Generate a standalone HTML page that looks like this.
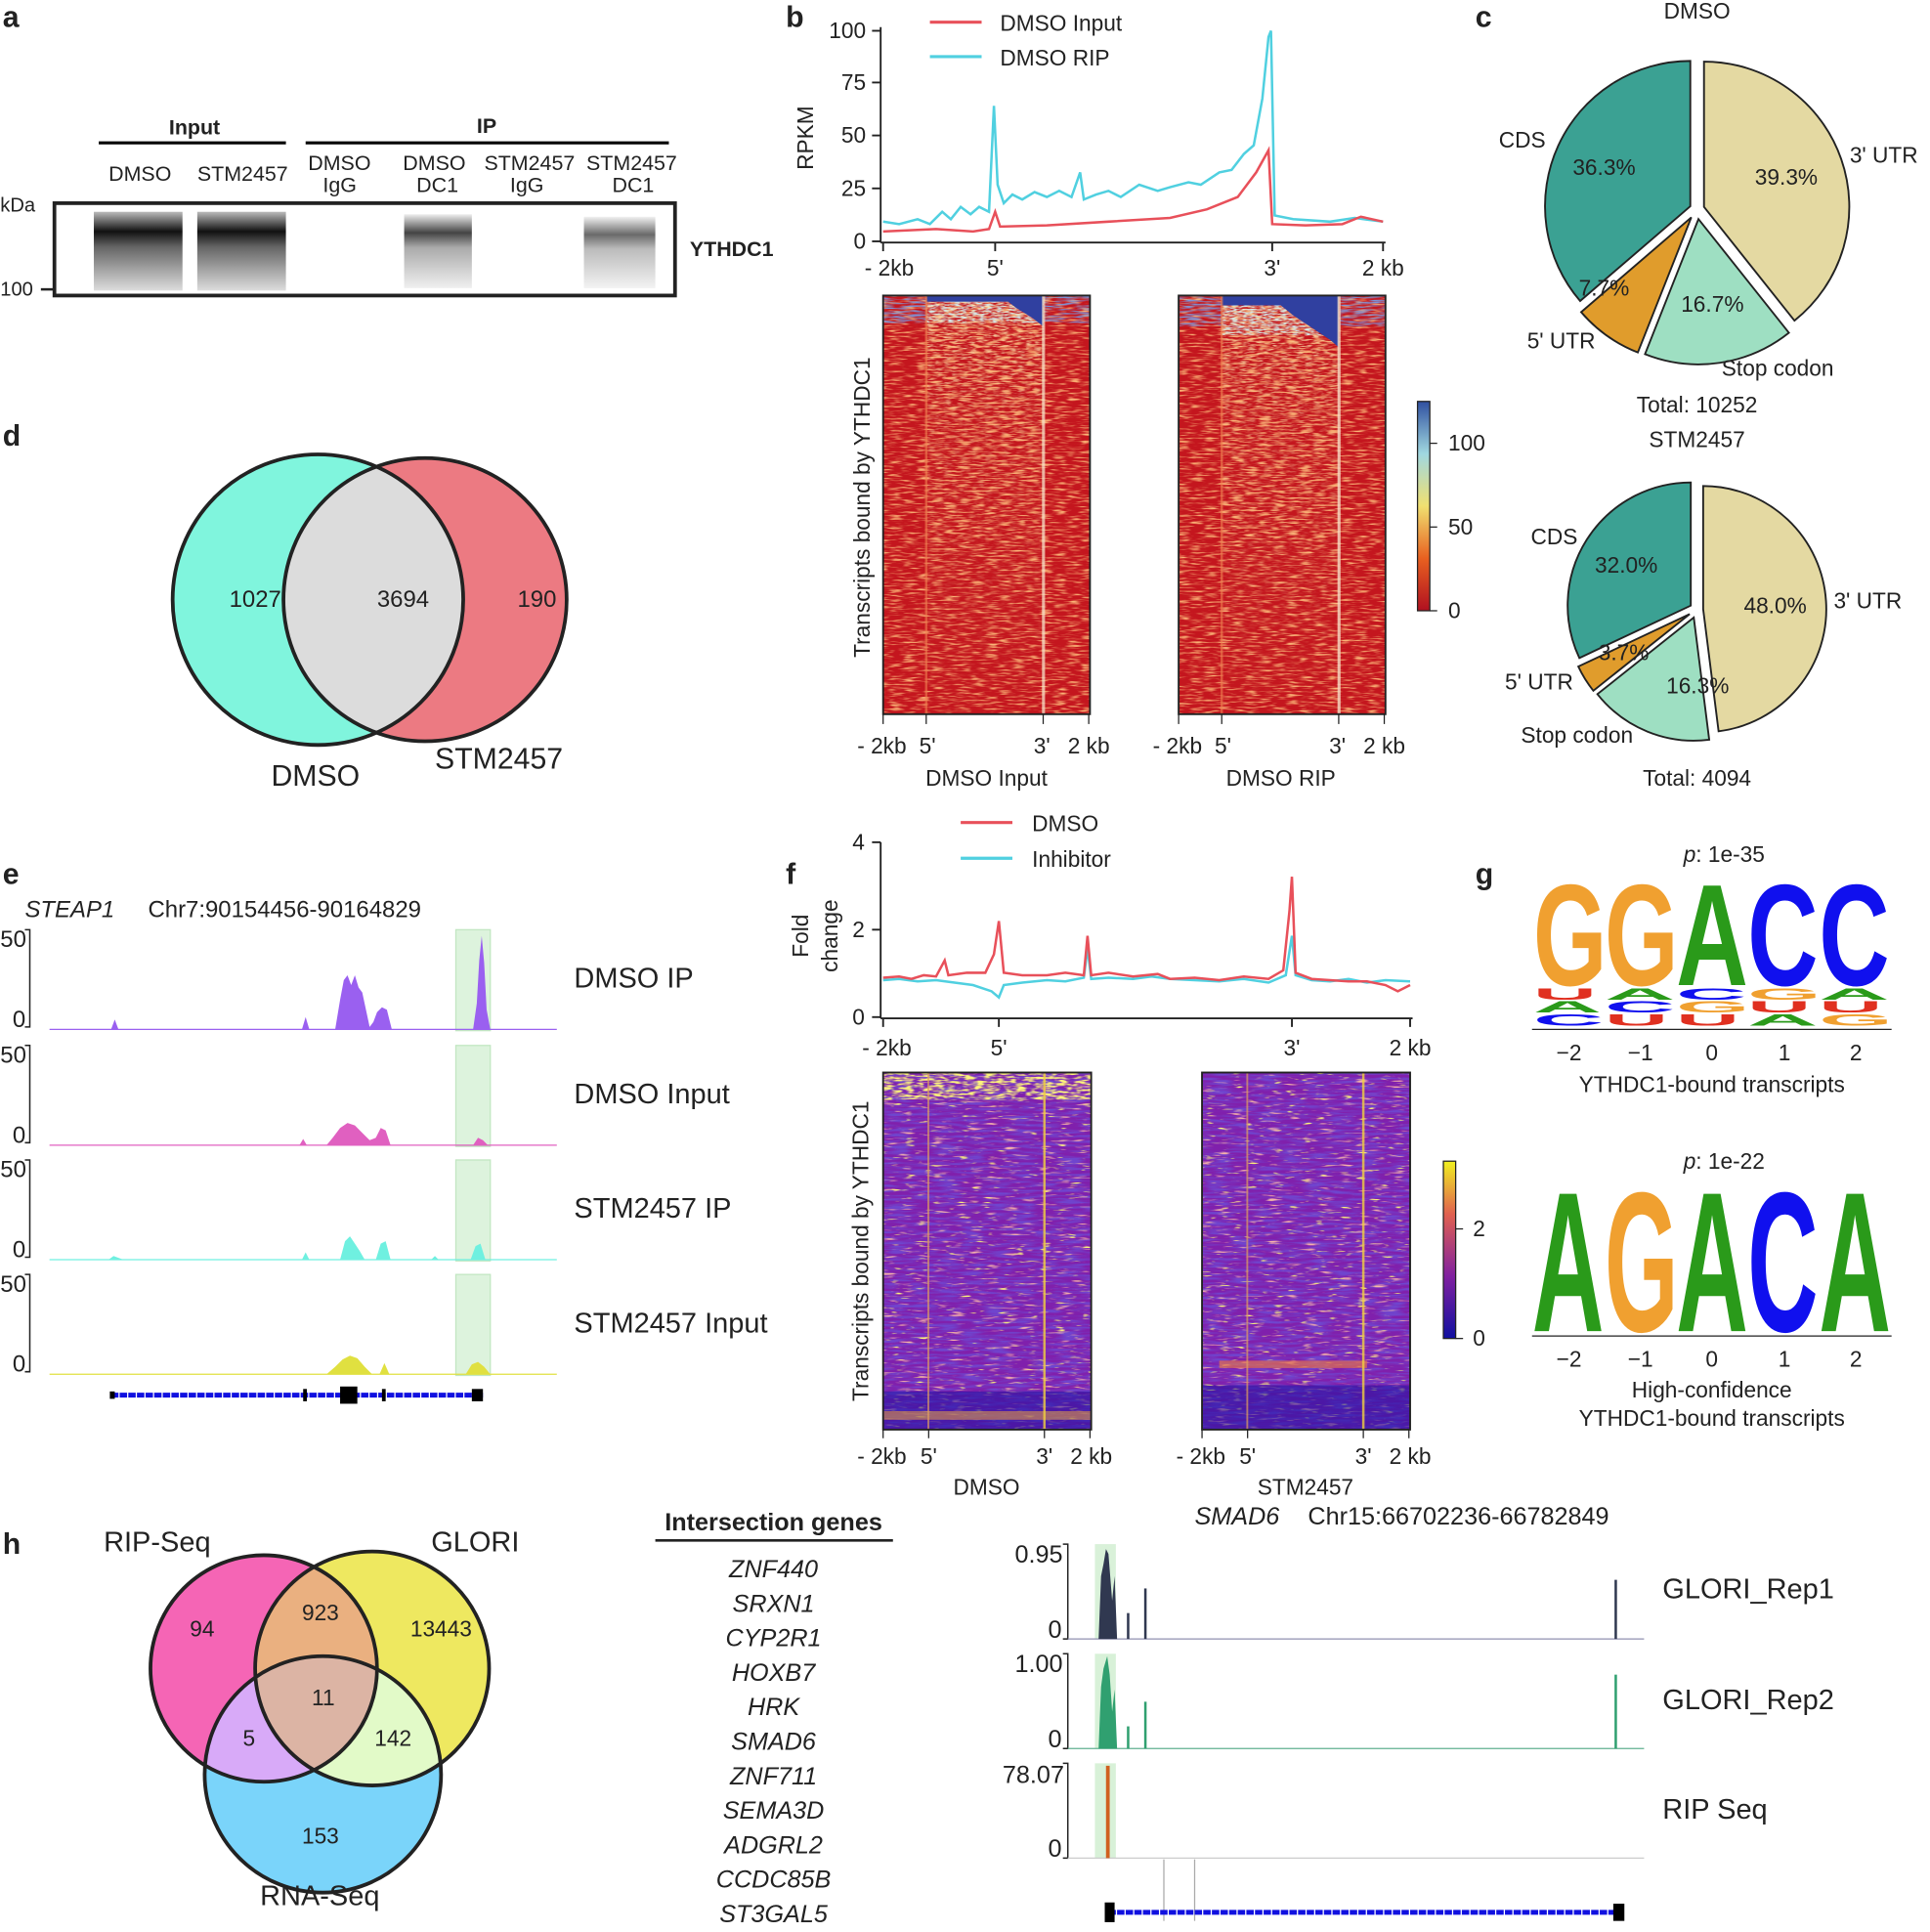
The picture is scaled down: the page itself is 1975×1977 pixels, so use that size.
<!DOCTYPE html>
<html><head><meta charset="utf-8"><style>
html,body{margin:0;padding:0;background:#fff}
svg{display:block}
text{font-family:"Liberation Sans",sans-serif;fill:#222}
</style></head><body>
<svg width="1975" height="1977" viewBox="0 0 1567 1569" xmlns="http://www.w3.org/2000/svg">
<defs>
<linearGradient id="cb1" x1="0" y1="0" x2="0" y2="1"><stop offset="0" stop-color="#3050a0"/><stop offset="0.25" stop-color="#a0d8e0"/><stop offset="0.5" stop-color="#f0e070"/><stop offset="0.75" stop-color="#e86020"/><stop offset="1" stop-color="#b01020"/></linearGradient>
<linearGradient id="cb2" x1="0" y1="0" x2="0" y2="1"><stop offset="0" stop-color="#f0f020"/><stop offset="0.3" stop-color="#e06050"/><stop offset="0.65" stop-color="#8020a0"/><stop offset="1" stop-color="#1010a0"/></linearGradient>
<linearGradient id="blot" x1="0" y1="0" x2="0" y2="1"><stop offset="0" stop-color="#bbb"/><stop offset="0.25" stop-color="#111"/><stop offset="0.45" stop-color="#666"/><stop offset="1" stop-color="#ddd"/></linearGradient>
<linearGradient id="blot2" x1="0" y1="0" x2="0" y2="1"><stop offset="0" stop-color="#eee"/><stop offset="0.25" stop-color="#444"/><stop offset="0.45" stop-color="#aaa"/><stop offset="1" stop-color="#f0f0f0"/></linearGradient>
<linearGradient id="fadeTop" x1="0" y1="0" x2="0" y2="1"><stop offset="0" stop-color="#fff" stop-opacity="1"/><stop offset="0.3" stop-color="#fff" stop-opacity="0.35"/><stop offset="1" stop-color="#fff" stop-opacity="0"/></linearGradient>
<mask id="mTop" maskUnits="userSpaceOnUse" x="0" y="0" width="1567" height="1569"><rect x="700" y="240" width="450" height="340" fill="url(#fadeTop)"/></mask>
<filter id="nR" x="0" y="0" width="1" height="1">
<feTurbulence type="fractalNoise" baseFrequency="0.09 0.7" numOctaves="2" seed="3"/>
<feColorMatrix type="matrix" values="0 0 0 0 0.96  0 0 0 0 0.45  0 0 0 0 0.18  3.2 0 0 0 -1.55"/></filter>
<filter id="nY" x="0" y="0" width="1" height="1">
<feTurbulence type="fractalNoise" baseFrequency="0.15 0.8" numOctaves="2" seed="9"/>
<feColorMatrix type="matrix" values="0 0 0 0 0.98  0 0 0 0 0.85  0 0 0 0 0.45  4 0 0 0 -1.9"/></filter>
<filter id="nB" x="0" y="0" width="1" height="1">
<feTurbulence type="fractalNoise" baseFrequency="0.08 0.7" numOctaves="2" seed="5"/>
<feColorMatrix type="matrix" values="0 0 0 0 0.2  0 0 0 0 0.3  0 0 0 0 0.7  3 0 0 0 -1.2"/></filter>
<filter id="nC" x="0" y="0" width="1" height="1">
<feTurbulence type="fractalNoise" baseFrequency="0.2 0.8" numOctaves="2" seed="15"/>
<feColorMatrix type="matrix" values="0 0 0 0 0.65  0 0 0 0 0.85  0 0 0 0 0.85  3 0 0 0 -1.2"/></filter>
<filter id="nP" x="0" y="0" width="1" height="1">
<feTurbulence type="fractalNoise" baseFrequency="0.05 0.45" numOctaves="2" seed="11"/>
<feColorMatrix type="matrix" values="0 0 0 0 0.16  0 0 0 0 0.06  0 0 0 0 0.62  3 0 0 0 -1.2"/></filter>
<filter id="nO" x="0" y="0" width="1" height="1">
<feTurbulence type="fractalNoise" baseFrequency="0.07 0.5" numOctaves="2" seed="21"/>
<feColorMatrix type="matrix" values="0 0 0 0 0.93  0 0 0 0 0.45  0 0 0 0 0.4  5 0 0 0 -3.1"/></filter>
<filter id="nYY" x="0" y="0" width="1" height="1">
<feTurbulence type="fractalNoise" baseFrequency="0.09 0.5" numOctaves="2" seed="31"/>
<feColorMatrix type="matrix" values="0 0 0 0 0.98  0 0 0 0 0.9  0 0 0 0 0.2  6 0 0 0 -4.0"/></filter>
<filter id="nYT" x="0" y="0" width="1" height="1">
<feTurbulence type="fractalNoise" baseFrequency="0.12 0.6" numOctaves="2" seed="41"/>
<feColorMatrix type="matrix" values="0 0 0 0 0.98  0 0 0 0 0.9  0 0 0 0 0.2  4 0 0 0 -1.7"/></filter>
<clipPath id="cA"><circle cx="258" cy="487" r="118"/></clipPath>
<clipPath id="cP"><circle cx="214" cy="1355" r="92"/></clipPath>
<clipPath id="cY"><circle cx="302" cy="1355" r="95"/></clipPath>
</defs>
<g font-weight="bold" font-size="24">
<text x="2" y="22">a</text><text x="638" y="22">b</text><text x="1198" y="22">c</text>
<text x="2" y="362">d</text><text x="2" y="718">e</text><text x="638" y="718">f</text>
<text x="1198" y="718">g</text><text x="2" y="1262">h</text></g>

<!-- a -->
<g font-size="17">
<text x="137" y="109" font-weight="bold">Input</text><line x1="80" y1="116" x2="232" y2="116" stroke="#000" stroke-width="2.5"/>
<text x="387" y="108" font-weight="bold">IP</text><line x1="248" y1="116" x2="543" y2="116" stroke="#000" stroke-width="2.5"/>
<text x="88" y="147">DMSO</text><text x="160" y="147">STM2457</text>
<text x="250" y="138">DMSO</text><text x="262" y="156">IgG</text>
<text x="327" y="138">DMSO</text><text x="338" y="156">DC1</text>
<text x="393" y="138">STM2457</text><text x="414" y="156">IgG</text>
<text x="476" y="138">STM2457</text><text x="497" y="156">DC1</text>
<text x="0" y="172" font-size="16">kDa</text><text x="0" y="240" font-size="16">100</text>
<text x="560" y="208" font-weight="bold">YTHDC1</text></g>
<rect x="44" y="165" width="504" height="75" fill="#fff" stroke="#222" stroke-width="3"/>
<line x1="33" y1="235" x2="44" y2="235" stroke="#222" stroke-width="2"/>
<rect x="76" y="172" width="72" height="64" fill="url(#blot)"/>
<rect x="160" y="172" width="72" height="64" fill="url(#blot)"/>
<rect x="328" y="174" width="55" height="60" fill="url(#blot2)"/>
<rect x="474" y="176" width="58" height="58" fill="url(#blot2)" opacity="0.8"/>

<!-- b line chart -->
<g font-size="18">
<line x1="715" y1="22" x2="715" y2="197" stroke="#222" stroke-width="1.5"/>
<line x1="715" y1="197" x2="1125" y2="197" stroke="#222" stroke-width="1.5"/>
<g stroke="#222" stroke-width="1.5"><line x1="708" y1="196" x2="715" y2="196"/><line x1="708" y1="153" x2="715" y2="153"/><line x1="708" y1="110" x2="715" y2="110"/><line x1="708" y1="67" x2="715" y2="67"/><line x1="708" y1="25" x2="715" y2="25"/>
<line x1="717" y1="197" x2="717" y2="204"/><line x1="808" y1="197" x2="808" y2="204"/><line x1="1033" y1="197" x2="1033" y2="204"/><line x1="1123" y1="197" x2="1123" y2="204"/></g>
<text x="703" y="202" text-anchor="end">0</text><text x="703" y="159" text-anchor="end">25</text><text x="703" y="116" text-anchor="end">50</text><text x="703" y="73" text-anchor="end">75</text><text x="703" y="31" text-anchor="end">100</text>
<text x="660" y="112" transform="rotate(-90 660 112)" text-anchor="middle">RPKM</text>
<text x="722" y="224" text-anchor="middle">- 2kb</text><text x="808" y="224" text-anchor="middle">5'</text><text x="1033" y="224" text-anchor="middle">3'</text><text x="1123" y="224" text-anchor="middle">2 kb</text>
<line x1="755" y1="18" x2="797" y2="18" stroke="#e8505a" stroke-width="2.5"/><text x="812" y="25">DMSO Input</text>
<line x1="755" y1="46" x2="797" y2="46" stroke="#50d0e0" stroke-width="2.5"/><text x="812" y="53">DMSO RIP</text>
</g>
<polyline fill="none" stroke="#50d0e0" stroke-width="2" points="717,180 730,182 745,178 755,182 765,172 772,178 780,168 788,174 795,168 803,172 807,86 810,150 815,165 822,158 830,162 840,156 850,160 860,155 870,160 877,140 880,162 890,158 900,155 910,160 925,150 940,155 950,152 965,148 975,150 990,140 1000,138 1010,125 1018,118 1025,80 1030,30 1032,25 1035,175 1050,178 1080,180 1100,177 1123,180"/>
<polyline fill="none" stroke="#e8505a" stroke-width="2" points="717,188 760,186 790,188 803,186 808,172 812,184 850,183 900,180 950,177 980,170 1005,160 1020,140 1030,122 1033,182 1060,183 1090,182 1105,176 1123,180"/>

<!-- b heatmaps -->
<g>
<rect x="717" y="240" width="168" height="340" fill="#c4161e"/>
<rect x="717" y="240" width="168" height="340" filter="url(#nR)"/>
<g mask="url(#mTop)"><rect x="752" y="240" width="95" height="340" filter="url(#nY)"/></g>
<rect x="752" y="240" width="95" height="200" filter="url(#nR)" opacity="0.6"/>
<rect x="752" y="244" width="95" height="18" filter="url(#nC)"/>
<rect x="752" y="240" width="95" height="5" fill="#3040a0"/>
<polygon points="812,240 847,240 847,265 838,258 825,250" fill="#3040a0"/>
<rect x="717" y="240" width="35" height="22" filter="url(#nB)"/>
<rect x="848" y="240" width="37" height="22" filter="url(#nB)"/>
<rect x="751" y="240" width="2" height="340" fill="#f08050" opacity="0.6"/>
<rect x="846" y="240" width="2.5" height="340" fill="#f6e0c8" opacity="0.75"/>

<rect x="957" y="240" width="168" height="340" fill="#c4161e"/>
<rect x="957" y="240" width="168" height="340" filter="url(#nR)"/>
<g mask="url(#mTop)"><rect x="992" y="240" width="95" height="340" filter="url(#nY)"/></g>
<rect x="992" y="240" width="95" height="200" filter="url(#nR)" opacity="0.6"/>
<rect x="992" y="248" width="95" height="24" filter="url(#nC)"/>
<rect x="992" y="240" width="95" height="8" fill="#3040a0"/>
<polygon points="1030,240 1087,240 1087,282 1080,276 1068,268 1050,256" fill="#3040a0"/>
<rect x="957" y="240" width="35" height="25" filter="url(#nB)"/>
<rect x="1088" y="240" width="37" height="25" filter="url(#nB)"/>
<rect x="991" y="240" width="2" height="340" fill="#f08050" opacity="0.6"/>
<rect x="1086" y="240" width="2.5" height="340" fill="#f6e0c8" opacity="0.8"/>
</g>
<rect x="717" y="240" width="168" height="340" fill="none" stroke="#222" stroke-width="1.5"/>
<rect x="957" y="240" width="168" height="340" fill="none" stroke="#222" stroke-width="1.5"/>
<g font-size="18" stroke="#222">
<line x1="717" y1="580" x2="717" y2="588"/><line x1="752" y1="580" x2="752" y2="588"/><line x1="847" y1="580" x2="847" y2="588"/><line x1="884" y1="580" x2="884" y2="588"/>
<line x1="957" y1="580" x2="957" y2="588"/><line x1="992" y1="580" x2="992" y2="588"/><line x1="1087" y1="580" x2="1087" y2="588"/><line x1="1124" y1="580" x2="1124" y2="588"/></g>
<g font-size="18">
<text x="716" y="612" text-anchor="middle">- 2kb</text><text x="753" y="612" text-anchor="middle">5'</text><text x="846" y="612" text-anchor="middle">3'</text><text x="884" y="612" text-anchor="middle">2 kb</text>
<text x="956" y="612" text-anchor="middle">- 2kb</text><text x="993" y="612" text-anchor="middle">5'</text><text x="1086" y="612" text-anchor="middle">3'</text><text x="1124" y="612" text-anchor="middle">2 kb</text>
<text x="801" y="638" text-anchor="middle">DMSO Input</text><text x="1040" y="638" text-anchor="middle">DMSO RIP</text>
<text x="706" y="412" transform="rotate(-90 706 412)" text-anchor="middle">Transcripts bound by YTHDC1</text>
<rect x="1151" y="326" width="10" height="170" fill="url(#cb1)" stroke="#222"/>
<line x1="1161" y1="360" x2="1167" y2="360" stroke="#222"/><line x1="1161" y1="428" x2="1167" y2="428" stroke="#222"/><line x1="1161" y1="496" x2="1167" y2="496" stroke="#222"/>
<text x="1176" y="366">100</text><text x="1176" y="434">50</text><text x="1176" y="502">0</text>
</g>

<!-- c pies -->
<g stroke="#222" stroke-width="1.5">
<path d="M1383.66,168.02 L1383.66,50.02 A118,118 0 0 1 1457.12,260.37 Z" fill="#e4d9a2"/>
<path d="M1379.18,177.91 L1452.64,270.26 A118,118 0 0 1 1335.74,287.63 Z" fill="#9edfc2"/>
<path d="M1373.36,176.52 L1329.92,286.24 A118,118 0 0 1 1283.89,253.46 Z" fill="#e09c2c"/>
<path d="M1372.55,167.5 L1283.08,244.44 A118,118 0 0 1 1372.55,49.5 Z" fill="#3ba193"/>
<path d="M1382.99,494.69 L1382.99,394.69 A100,100 0 0 1 1395.52,593.9 Z" fill="#e4d9a2"/>
<path d="M1375.36,501.48 L1387.89,600.69 A100,100 0 0 1 1297.1,563.73 Z" fill="#9edfc2"/>
<path d="M1372.05,498.69 L1293.79,560.94 A100,100 0 0 1 1281.57,541.27 Z" fill="#e09c2c"/>
<path d="M1372.93,491.79 L1282.45,534.37 A100,100 0 0 1 1372.93,391.79 Z" fill="#3ba193"/>
</g>
<g font-size="18">
<text x="1378" y="15" text-anchor="middle">DMSO</text>
<text x="1217" y="120">CDS</text><text x="1277" y="142">36.3%</text><text x="1425" y="150">39.3%</text><text x="1502" y="132">3' UTR</text>
<text x="1282" y="240">7.7%</text><text x="1365" y="253">16.7%</text><text x="1240" y="283">5' UTR</text><text x="1398" y="305">Stop codon</text>
<text x="1378" y="335" text-anchor="middle">Total: 10252</text><text x="1378" y="363" text-anchor="middle">STM2457</text>
<text x="1243" y="442">CDS</text><text x="1295" y="465">32.0%</text><text x="1416" y="498">48.0%</text><text x="1489" y="494">3' UTR</text>
<text x="1298" y="536">3.7%</text><text x="1353" y="563">16.3%</text><text x="1222" y="560">5' UTR</text><text x="1235" y="603">Stop codon</text>
<text x="1378" y="638" text-anchor="middle">Total: 4094</text>
</g>

<!-- d venn -->
<circle cx="258" cy="487" r="118" fill="#80f5dd"/>
<circle cx="345" cy="487" r="115" fill="#ec7a82"/>
<circle cx="345" cy="487" r="115" fill="#dcdcdc" clip-path="url(#cA)"/>
<circle cx="258" cy="487" r="118" fill="none" stroke="#222" stroke-width="3"/>
<circle cx="345" cy="487" r="115" fill="none" stroke="#222" stroke-width="3"/>
<g font-size="19"><text x="186" y="493">1027</text><text x="306" y="493">3694</text><text x="420" y="493">190</text></g>
<g font-size="24"><text x="220" y="638">DMSO</text><text x="353" y="624">STM2457</text></g>

<!-- e tracks -->
<g fill="#cfeecf" opacity="0.7" stroke="#a8dca8">
<rect x="370" y="755" width="28" height="82"/><rect x="370" y="849" width="28" height="82"/><rect x="370" y="942" width="28" height="82"/><rect x="370" y="1035" width="28" height="82"/></g>
<path fill="#9a60f0" d="M40,836 L90,836 93,828 96,836 245,836 248,826 251,836 272,836 276,812 279,796 282,792 285,800 288,792 291,802 294,806 297,820 300,834 303,830 306,822 310,818 314,820 318,836 384,836 387,815 389,780 391,760 393,782 395,820 398,836 452,836 Z"/>
<path fill="#e060c0" d="M40,930 L243,930 246,925 249,930 265,930 270,924 276,916 282,912 288,914 294,920 300,926 305,924 309,916 313,918 317,930 384,930 388,924 392,926 396,930 452,930 Z"/>
<path fill="#6ff0e0" d="M40,1023 L88,1023 92,1020 100,1023 245,1023 248,1017 251,1023 276,1023 280,1008 284,1004 288,1010 292,1016 296,1023 305,1023 309,1010 313,1008 317,1023 350,1023 353,1020 356,1023 382,1023 386,1012 390,1010 394,1023 452,1023 Z"/>
<path fill="#e0e040" d="M40,1116 L265,1116 272,1110 278,1104 284,1101 290,1103 296,1110 302,1116 308,1116 312,1107 316,1116 378,1116 383,1108 388,1106 393,1110 398,1116 452,1116 Z"/>
<g stroke-width="1"><line x1="40" y1="836" x2="452" y2="836" stroke="#9a60f0"/><line x1="40" y1="930" x2="452" y2="930" stroke="#e060c0"/><line x1="40" y1="1023" x2="452" y2="1023" stroke="#6ff0e0"/><line x1="40" y1="1116" x2="452" y2="1116" stroke="#e0e040"/></g>
<g font-size="19">
<text x="20" y="745" font-style="italic">STEAP1</text><text x="120" y="745">Chr7:90154456-90164829</text>
<text x="0" y="769">50</text><text x="10" y="834">0</text>
<text x="0" y="863">50</text><text x="10" y="928">0</text>
<text x="0" y="956">50</text><text x="10" y="1021">0</text>
<text x="0" y="1049">50</text><text x="10" y="1114">0</text>
<g font-size="23"><text x="466" y="802">DMSO IP</text><text x="466" y="896">DMSO Input</text><text x="466" y="989">STM2457 IP</text><text x="466" y="1082">STM2457 Input</text></g>
</g>
<g stroke="#222" stroke-width="1.2" fill="none">
<polyline points="20,755 24,755 24,834 20,834"/><polyline points="20,849 24,849 24,928 20,928"/><polyline points="20,942 24,942 24,1021 20,1021"/><polyline points="20,1035 24,1035 24,1114 20,1114"/></g>
<line x1="90" y1="1133" x2="392" y2="1133" stroke="#1010e0" stroke-width="4" stroke-dasharray="6 1"/>
<rect x="276" y="1126" width="14" height="14" fill="#000"/><rect x="246" y="1128" width="3" height="10" fill="#000"/><rect x="310" y="1128" width="3" height="10" fill="#000"/><rect x="383" y="1128" width="9" height="10" fill="#000"/><rect x="89" y="1130" width="4" height="6" fill="#000"/>

<!-- f line chart -->
<g font-size="18">
<line x1="715" y1="684" x2="715" y2="827" stroke="#222" stroke-width="1.5"/>
<line x1="715" y1="827" x2="1147" y2="827" stroke="#222" stroke-width="1.5"/>
<g stroke="#222" stroke-width="1.5"><line x1="708" y1="826" x2="715" y2="826"/><line x1="708" y1="755" x2="715" y2="755"/><line x1="708" y1="684" x2="715" y2="684"/>
<line x1="717" y1="827" x2="717" y2="834"/><line x1="811" y1="827" x2="811" y2="834"/><line x1="1049" y1="827" x2="1049" y2="834"/><line x1="1145" y1="827" x2="1145" y2="834"/></g>
<text x="702" y="832" text-anchor="end">0</text><text x="702" y="761" text-anchor="end">2</text><text x="702" y="690" text-anchor="end">4</text>
<text x="656" y="760" transform="rotate(-90 656 760)" text-anchor="middle">Fold</text><text x="680" y="760" transform="rotate(-90 680 760)" text-anchor="middle">change</text>
<text x="720" y="857" text-anchor="middle">- 2kb</text><text x="811" y="857" text-anchor="middle">5'</text><text x="1049" y="857" text-anchor="middle">3'</text><text x="1145" y="857" text-anchor="middle">2 kb</text>
<line x1="780" y1="668" x2="822" y2="668" stroke="#e8505a" stroke-width="2.5"/><text x="838" y="675">DMSO</text>
<line x1="780" y1="697" x2="822" y2="697" stroke="#50d0e0" stroke-width="2.5"/><text x="838" y="704">Inhibitor</text>
</g>
<polyline fill="none" stroke="#50d0e0" stroke-width="2" points="717,796 730,795 745,797 760,796 775,798 790,800 805,805 811,810 815,800 830,798 850,796 865,797 880,794 883,770 886,795 900,794 920,795 935,793 950,795 970,796 990,797 1010,795 1030,798 1044,792 1049,760 1052,792 1065,796 1080,797 1095,795 1110,798 1125,796 1145,797"/>
<polyline fill="none" stroke="#e8505a" stroke-width="2" points="717,794 730,793 740,795 750,792 760,793 767,780 770,792 785,790 800,790 807,775 811,748 815,790 830,792 850,792 865,790 880,792 883,760 886,792 900,790 920,793 940,791 950,795 970,794 990,796 1010,793 1030,795 1042,788 1047,740 1049,712 1052,790 1065,795 1080,796 1095,797 1110,797 1125,800 1135,805 1145,800"/>

<g>
<rect x="717" y="871" width="169" height="290" fill="#8020ac"/>
<rect x="717" y="871" width="169" height="290" filter="url(#nP)"/>
<rect x="717" y="871" width="169" height="290" filter="url(#nO)"/>
<rect x="717" y="871" width="169" height="290" filter="url(#nYY)"/>
<rect x="717" y="871" width="169" height="22" filter="url(#nYT)"/>
<rect x="717" y="1130" width="169" height="31" fill="#2010a0" opacity="0.55"/>
<rect x="717" y="1146" width="169" height="7" fill="#e8a040" opacity="0.55"/>
<rect x="753" y="871" width="1.5" height="290" fill="#e0a060" opacity="0.7"/>
<rect x="847" y="871" width="2" height="290" fill="#f0d040" opacity="0.8"/>
<rect x="976" y="871" width="169" height="290" fill="#8020ac"/>
<rect x="976" y="871" width="169" height="290" filter="url(#nP)"/>
<rect x="976" y="871" width="169" height="290" filter="url(#nO)"/>
<rect x="976" y="871" width="169" height="290" filter="url(#nYY)"/>
<rect x="976" y="1125" width="169" height="36" fill="#2010a0" opacity="0.55"/>
<rect x="990" y="1105" width="120" height="6" fill="#e07050" opacity="0.7"/>
<rect x="1012" y="871" width="1.5" height="290" fill="#e0a060" opacity="0.7"/>
<rect x="1106" y="871" width="2" height="290" fill="#f0d040" opacity="0.8"/>
</g>
<rect x="717" y="871" width="169" height="290" fill="none" stroke="#222" stroke-width="1.5"/>
<rect x="976" y="871" width="169" height="290" fill="none" stroke="#222" stroke-width="1.5"/>
<g font-size="18">
<g stroke="#222"><line x1="717" y1="1161" x2="717" y2="1168"/><line x1="754" y1="1161" x2="754" y2="1168"/><line x1="848" y1="1161" x2="848" y2="1168"/><line x1="885" y1="1161" x2="885" y2="1168"/>
<line x1="976" y1="1161" x2="976" y2="1168"/><line x1="1013" y1="1161" x2="1013" y2="1168"/><line x1="1107" y1="1161" x2="1107" y2="1168"/><line x1="1144" y1="1161" x2="1144" y2="1168"/></g>
<text x="716" y="1189" text-anchor="middle">- 2kb</text><text x="754" y="1189" text-anchor="middle">5'</text><text x="848" y="1189" text-anchor="middle">3'</text><text x="886" y="1189" text-anchor="middle">2 kb</text>
<text x="975" y="1189" text-anchor="middle">- 2kb</text><text x="1013" y="1189" text-anchor="middle">5'</text><text x="1107" y="1189" text-anchor="middle">3'</text><text x="1145" y="1189" text-anchor="middle">2 kb</text>
<text x="801" y="1214" text-anchor="middle">DMSO</text><text x="1060" y="1214" text-anchor="middle">STM2457</text>
<text x="705" y="1016" transform="rotate(-90 705 1016)" text-anchor="middle">Transcripts bound by YTHDC1</text>
<rect x="1172" y="943" width="10" height="144" fill="url(#cb2)" stroke="#222"/>
<line x1="1182" y1="998" x2="1188" y2="998" stroke="#222"/><line x1="1182" y1="1087" x2="1188" y2="1087" stroke="#222"/>
<text x="1196" y="1004">2</text><text x="1196" y="1093">0</text>
</g>

<!-- g logos -->
<g font-size="18">
<text x="1400" y="700" text-anchor="middle"><tspan font-style="italic">p</tspan>: 1e-35</text>
<text x="1400" y="949" text-anchor="middle"><tspan font-style="italic">p</tspan>: 1e-22</text>
<text x="1390" y="887" text-anchor="middle">YTHDC1-bound transcripts</text>
<text x="1390" y="1135" text-anchor="middle">High-confidence</text><text x="1390" y="1158" text-anchor="middle">YTHDC1-bound transcripts</text>
<line x1="1244" y1="836" x2="1536" y2="836" stroke="#222"/><line x1="1244" y1="1085" x2="1536" y2="1085" stroke="#222"/>
<text x="1274" y="861" text-anchor="middle">−2</text><text x="1332" y="861" text-anchor="middle">−1</text><text x="1390" y="861" text-anchor="middle">0</text><text x="1449" y="861" text-anchor="middle">1</text><text x="1507" y="861" text-anchor="middle">2</text>
<text x="1274" y="1110" text-anchor="middle">−2</text><text x="1332" y="1110" text-anchor="middle">−1</text><text x="1390" y="1110" text-anchor="middle">0</text><text x="1449" y="1110" text-anchor="middle">1</text><text x="1507" y="1110" text-anchor="middle">2</text>
</g>
<g font-weight="bold">
<g transform="translate(1245,800) scale(0.95,1.45)"><text font-size="81" style="fill:#f0a030">G</text></g>
<g transform="translate(1303,800) scale(0.95,1.45)"><text font-size="81" style="fill:#f0a030">G</text></g>
<g transform="translate(1361,800) scale(1.0,1.45)"><text font-size="81" style="fill:#2a9a1a">A</text></g>
<g transform="translate(1419,800) scale(0.98,1.45)"><text font-size="81" style="fill:#1010ee">C</text></g>
<g transform="translate(1477,800) scale(0.98,1.45)"><text font-size="81" style="fill:#1010ee">C</text></g>
<g font-size="81">
<g transform="translate(1245,812) scale(0.88,0.16)"><text style="fill:#e03020">U</text></g><g transform="translate(1245,822) scale(0.95,0.16)"><text style="fill:#2a9a1a">A</text></g><g transform="translate(1245,833) scale(0.98,0.16)"><text style="fill:#1010ee">C</text></g>
<g transform="translate(1303,812) scale(0.98,0.16)"><text style="fill:#2a9a1a">A</text></g><g transform="translate(1303,822) scale(0.98,0.16)"><text style="fill:#1010ee">C</text></g><g transform="translate(1303,833) scale(0.88,0.16)"><text style="fill:#e03020">U</text></g>
<g transform="translate(1361,812) scale(0.98,0.16)"><text style="fill:#1010ee">C</text></g><g transform="translate(1361,822) scale(0.95,0.16)"><text style="fill:#f0a030">G</text></g><g transform="translate(1361,833) scale(0.88,0.16)"><text style="fill:#e03020">U</text></g>
<g transform="translate(1419,812) scale(0.95,0.16)"><text style="fill:#f0a030">G</text></g><g transform="translate(1419,822) scale(0.88,0.16)"><text style="fill:#e03020">U</text></g><g transform="translate(1419,833) scale(0.98,0.16)"><text style="fill:#2a9a1a">A</text></g>
<g transform="translate(1477,812) scale(0.98,0.16)"><text style="fill:#2a9a1a">A</text></g><g transform="translate(1477,822) scale(0.88,0.16)"><text style="fill:#e03020">U</text></g><g transform="translate(1477,833) scale(0.95,0.16)"><text style="fill:#f0a030">G</text></g>
</g>
<g transform="translate(1244,1081) scale(1.0,2.0)"><text font-size="81" style="fill:#2a9a1a">A</text></g>
<g transform="translate(1303,1081) scale(0.95,2.0)"><text font-size="81" style="fill:#f0a030">G</text></g>
<g transform="translate(1361,1081) scale(1.0,2.0)"><text font-size="81" style="fill:#2a9a1a">A</text></g>
<g transform="translate(1419,1081) scale(0.98,2.0)"><text font-size="81" style="fill:#1010ee">C</text></g>
<g transform="translate(1477,1081) scale(1.0,2.0)"><text font-size="81" style="fill:#2a9a1a">A</text></g>
</g>

<!-- h venn -->
<circle cx="214" cy="1355" r="92" fill="#f565b5"/>
<circle cx="302" cy="1355" r="95" fill="#eee860"/>
<circle cx="262" cy="1441" r="96" fill="#7ad4fa"/>
<circle cx="302" cy="1355" r="95" fill="#eab080" clip-path="url(#cP)"/>
<circle cx="262" cy="1441" r="96" fill="#d8aaf8" clip-path="url(#cP)"/>
<circle cx="262" cy="1441" r="96" fill="#e2fac8" clip-path="url(#cY)"/>
<g clip-path="url(#cP)"><circle cx="262" cy="1441" r="96" fill="#dcb4a4" clip-path="url(#cY)"/></g>
<g fill="none" stroke="#222" stroke-width="3"><circle cx="214" cy="1355" r="92"/><circle cx="302" cy="1355" r="95"/><circle cx="262" cy="1441" r="96"/></g>
<g font-size="18"><text x="154" y="1329">94</text><text x="245" y="1316">923</text><text x="333" y="1329">13443</text><text x="253" y="1385">11</text><text x="197" y="1418">5</text><text x="304" y="1418">142</text><text x="245" y="1497">153</text></g>
<g font-size="23"><text x="84" y="1260">RIP-Seq</text><text x="350" y="1260">GLORI</text><text x="211" y="1547">RNA-Seq</text></g>

<!-- gene list -->
<g font-size="20">
<text x="628" y="1243" text-anchor="middle" font-weight="bold">Intersection genes</text>
<line x1="532" y1="1251" x2="725" y2="1251" stroke="#222" stroke-width="2"/>
<g font-style="italic" text-anchor="middle">
<text x="628" y="1281">ZNF440</text><text x="628" y="1309">SRXN1</text><text x="628" y="1337">CYP2R1</text><text x="628" y="1365">HOXB7</text><text x="628" y="1393">HRK</text><text x="628" y="1421">SMAD6</text><text x="628" y="1449">ZNF711</text><text x="628" y="1477">SEMA3D</text><text x="628" y="1505">ADGRL2</text><text x="628" y="1533">CCDC85B</text><text x="628" y="1561">ST3GAL5</text></g>
</g>

<!-- SMAD6 tracks -->
<g font-size="20">
<text x="970" y="1238" font-style="italic">SMAD6</text><text x="1062" y="1238">Chr15:66702236-66782849</text>
<g fill="#cfeecf" opacity="0.8"><rect x="889" y="1254" width="17" height="77"/><rect x="889" y="1343" width="17" height="77"/><rect x="889" y="1432" width="17" height="77"/></g>
<text x="824" y="1269">0.95</text><text x="851" y="1330">0</text>
<text x="824" y="1358">1.00</text><text x="851" y="1419">0</text>
<text x="814" y="1448">78.07</text><text x="851" y="1508">0</text>
<g font-size="23"><text x="1350" y="1298">GLORI_Rep1</text><text x="1350" y="1388">GLORI_Rep2</text><text x="1350" y="1477">RIP Seq</text></g>
</g>
<g stroke="#222" stroke-width="1.2" fill="none"><polyline points="863,1254 867,1254 867,1331 863,1331"/><polyline points="863,1343 867,1343 867,1420 863,1420"/><polyline points="863,1432 867,1432 867,1509 863,1509"/></g>
<line x1="867" y1="1331" x2="1335" y2="1331" stroke="#9090b0"/><line x1="867" y1="1420" x2="1335" y2="1420" stroke="#60b090"/><line x1="867" y1="1509" x2="1335" y2="1509" stroke="#ccc"/>
<path d="M892,1331 L894,1280 896,1270 898,1258 900,1262 903,1300 905,1280 907,1331 Z" fill="#303850"/>
<rect x="915" y="1310" width="2" height="21" fill="#303850"/><rect x="929" y="1290" width="2" height="41" fill="#303850"/><rect x="1311" y="1283" width="2" height="48" fill="#303850"/>
<path d="M892,1420 L894,1370 896,1355 899,1345 901,1360 903,1390 905,1372 907,1420 Z" fill="#30a070"/>
<rect x="915" y="1402" width="2" height="18" fill="#30a070"/><rect x="929" y="1382" width="2" height="38" fill="#30a070"/><rect x="1311" y="1360" width="2" height="60" fill="#30a070"/>
<rect x="898" y="1434" width="3" height="75" fill="#d06020"/>
<line x1="945" y1="1510" x2="945" y2="1560" stroke="#aaa"/><line x1="970" y1="1510" x2="970" y2="1560" stroke="#aaa"/>
<line x1="900" y1="1553" x2="1315" y2="1553" stroke="#1010e0" stroke-width="4" stroke-dasharray="6 1"/>
<rect x="897" y="1545" width="8" height="16" fill="#000"/><rect x="1310" y="1546" width="9" height="14" fill="#000"/>
</svg>
</body></html>
